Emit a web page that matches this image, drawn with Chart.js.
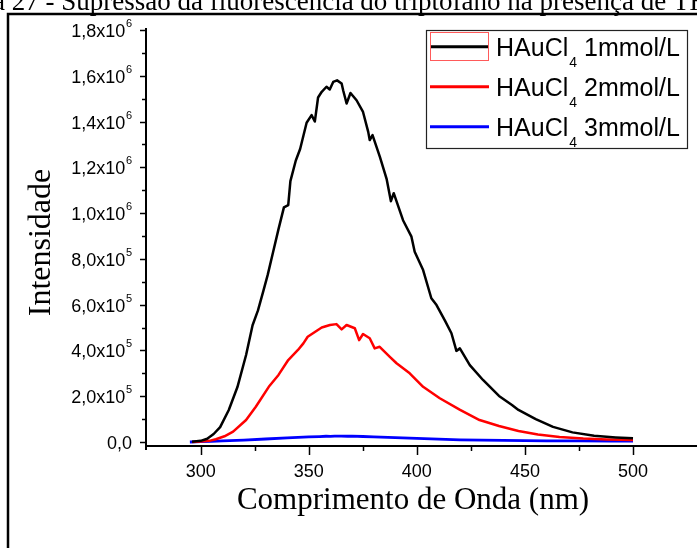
<!DOCTYPE html>
<html><head><meta charset="utf-8">
<script src="https://cdn.jsdelivr.net/npm/chart.js@4.4.1/dist/chart.umd.min.js"></script>
<style>html,body{margin:0;padding:0;background:#fff;overflow:hidden}canvas{display:block}</style>
</head><body>
<canvas id="c" width="697" height="548"></canvas>
<script>
// ---- data ----
const wl1 = [296,300,303,306,309,313,317,321,324,326.5,329,331,333.5,336,338.5,340.5,341.5,344,346,349,351.3,352.8,354.3,356,358.2,359.7,361.3,363.1,365.2,365.9,367.5,369.3,372.1,375.1,377.5,378.2,379.5,382.9,386,388,389.3,393.6,397.5,399,402.9,406.7,409.1,413,416,418.3,419.9,424.5,430.6,438,444,447,455,463,472,482,492,500];
const int1 = [1000,5000,14000,35000,65000,140000,240000,380000,510000,575000,660000,730000,830000,930000,1025000,1035000,1140000,1230000,1280000,1395000,1428000,1400000,1505000,1530000,1552000,1540000,1573000,1580000,1566000,1537000,1479000,1525000,1493000,1442000,1355000,1319000,1341000,1246000,1150000,1052000,1087000,969000,897000,831000,751000,628000,598000,530000,475000,398000,409000,336000,271000,201000,162000,140000,100000,66000,42000,27000,20000,16000];

const wl2 = [296,300,304,307,311,315,321,325.5,331.5,336,340.5,345,347.5,349.5,353,356,359.8,362.8,365.2,367.5,371.3,373.3,375.1,378.2,380.5,382.8,387.5,390.6,396.7,402.9,410.6,420,429,438,447,456,466,477,488,500];
const int2 = [0,2000,5000,12000,25000,45000,96000,154000,241000,293000,358000,402000,431000,460000,482000,500000,511000,515000,492000,511000,497000,445000,472000,453000,409000,416000,372000,344000,300000,241000,191000,140000,96000,70000,48000,33000,22000,15000,11000,9000];

const wl3 = [295,300,305,310,320,330,340,350,355,358,360,362,365,368,370,375,380,390,400,410,420,430,440,450,460,475,490,500];
const int3 = [0,1500,3000,4500,8000,13000,18000,22000,23500,25000,24500,26000,25500,25000,25500,24000,22000,19000,16000,12500,9500,8000,7000,6000,5000,4500,4000,4000];

const seriesLabels = ['HAuCl\u2084 1mmol/L','HAuCl\u2084 2mmol/L','HAuCl\u2084 3mmol/L'];
const seriesColors = ['#000000','#ff0000','#0000ff'];

const xTicks = [300,350,400,450,500];
const xTickLabels = ['300','350','400','450','500'];
const xMinor = [325,375,425,475];
const yTicks = [0,200000,400000,600000,800000,1000000,1200000,1400000,1600000,1800000];
const yTickMant = ['0,0','2,0x10','4,0x10','6,0x10','8,0x10','1,0x10','1,2x10','1,4x10','1,6x10','1,8x10'];
const yTickExp  = ['','5','5','5','5','6','6','6','6','6'];
const yMinor = [100000,300000,500000,700000,900000,1100000,1300000,1500000,1700000];

const xTitle = 'Comprimento de Onda (nm)';
const yTitle = 'Intensidade';
const caption = 'Figura 27 - Supressão da fluorescência do triptofano na presença de TH';

function pts(xa, ya){ return xa.map((x,i)=>({x:x, y:ya[i]})); }

const deco = {
  id:'deco',
  beforeDraw(c){ const ctx=c.ctx; ctx.save(); ctx.fillStyle='#fff'; ctx.fillRect(0,0,c.width,c.height); ctx.restore(); },
  afterDraw(c){
    const ctx=c.ctx, xs=c.scales.x, ys=c.scales.y, a=c.chartArea;
    ctx.save();
    ctx.fillStyle='#000'; ctx.strokeStyle='#000';
    // cropped caption at the very top
    ctx.font='27px "Liberation Serif"'; ctx.textAlign='left'; ctx.textBaseline='alphabetic';
    const wpre = ctx.measureText('Figur').width;
    ctx.fillText(caption, -7 - wpre, 10);
    // outer frame
    ctx.lineWidth=2.5;
    ctx.strokeRect(8, 14, 900, 900);
    // axes
    ctx.lineWidth=2;
    const x0=a.left, yb=a.bottom;
    ctx.beginPath(); ctx.moveTo(x0, a.top-2); ctx.lineTo(x0, yb+4); ctx.stroke();
    ctx.beginPath(); ctx.moveTo(x0-1, yb); ctx.lineTo(a.right+2, yb); ctx.stroke();
    ctx.lineWidth=1.5;
    yTicks.forEach(v=>{const y=Math.round(ys.getPixelForValue(v))+0.5; ctx.beginPath(); ctx.moveTo(x0-6,y); ctx.lineTo(x0,y); ctx.stroke();});
    yMinor.forEach(v=>{const y=Math.round(ys.getPixelForValue(v))+0.5; ctx.beginPath(); ctx.moveTo(x0-4,y); ctx.lineTo(x0,y); ctx.stroke();});
    xTicks.forEach(v=>{const x=Math.round(xs.getPixelForValue(v))+0.5; ctx.beginPath(); ctx.moveTo(x,yb); ctx.lineTo(x,yb+9); ctx.stroke();});
    xMinor.forEach(v=>{const x=Math.round(xs.getPixelForValue(v))+0.5; ctx.beginPath(); ctx.moveTo(x,yb); ctx.lineTo(x,yb+5); ctx.stroke();});
    // y tick labels
    const lx = 132;
    yTicks.forEach((v,i)=>{
      const y=ys.getPixelForValue(v);
      ctx.textAlign='right'; ctx.textBaseline='alphabetic';
      let xr = lx;
      if(yTickExp[i]){
        ctx.font='11px "Liberation Sans"';
        ctx.fillText(yTickExp[i], lx, y-3);
        xr = lx - ctx.measureText(yTickExp[i]).width - 0.5;
      }
      ctx.font='18px "Liberation Sans"';
      ctx.fillText(yTickMant[i], xr, y+7);
    });
    // x tick labels
    ctx.font='18px "Liberation Sans"'; ctx.textAlign='center'; ctx.textBaseline='alphabetic';
    xTicks.forEach((v,i)=>{ ctx.fillText(xTickLabels[i], xs.getPixelForValue(v), 477); });
    // axis titles
    ctx.font='31px "Liberation Serif"';
    ctx.fillText(xTitle, 413, 509);
    ctx.save(); ctx.translate(50, 242.5); ctx.rotate(-Math.PI/2);
    ctx.font='32px "Liberation Serif"'; ctx.textAlign='center';
    ctx.fillText(yTitle, 0, 0); ctx.restore();
    // legend
    ctx.fillStyle='#fff'; ctx.fillRect(426.5,30.5,261,118);
    ctx.lineWidth=1.2; ctx.strokeStyle='#222'; ctx.strokeRect(426.5,30.5,261,118);
    c.data.datasets.forEach((ds,i)=>{
      const y = 46.7 + i*40;
      ctx.strokeStyle=ds.borderColor; ctx.lineWidth=3;
      ctx.beginPath(); ctx.moveTo(430,y); ctx.lineTo(489,y); ctx.stroke();
      const parts = ds.label.split('\u2084');
      ctx.fillStyle='#000'; ctx.textAlign='left'; ctx.textBaseline='alphabetic';
      let x = 496;
      ctx.font='25px "Liberation Sans"'; ctx.fillText(parts[0], x, y+9); x += ctx.measureText(parts[0]).width + 1;
      ctx.font='14px "Liberation Sans"'; ctx.fillText('4', x, y+20); x += ctx.measureText('4').width;
      ctx.font='25px "Liberation Sans"'; ctx.fillText(parts[1], x, y+9);
    });
    ctx.strokeStyle='#ff5a5a'; ctx.lineWidth=1; ctx.strokeRect(430.5,32.5,58,28);
    ctx.restore();
  }
};

new Chart(document.getElementById('c'), {
  type:'line',
  data:{ datasets:[
    {label:seriesLabels[0], data:pts(wl1,int1), borderColor:seriesColors[0], borderWidth:2.5, pointRadius:0, tension:0, fill:false, borderJoinStyle:'round'},
    {label:seriesLabels[1], data:pts(wl2,int2), borderColor:seriesColors[1], borderWidth:2.5, pointRadius:0, tension:0, fill:false, borderJoinStyle:'round'},
    {label:seriesLabels[2], data:pts(wl3,int3), borderColor:seriesColors[2], borderWidth:2.8, pointRadius:0, tension:0, fill:false, borderJoinStyle:'round'}
  ]},
  options:{
    responsive:false, animation:false, events:[],
    layout:{padding:{left:146, top:30, right:0, bottom:102}},
    scales:{
      x:{type:'linear', min:274.7, max:529.6, display:false},
      y:{type:'linear', min:-17500, max:1800000, display:false}
    },
    plugins:{legend:{display:false}, tooltip:{enabled:false}, title:{display:false}}
  },
  plugins:[deco]
});
</script>
</body></html>
